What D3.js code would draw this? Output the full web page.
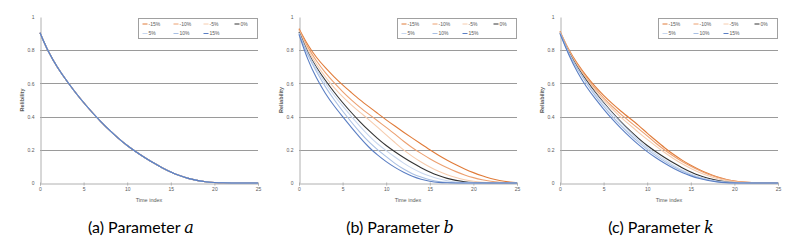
<!DOCTYPE html>
<html>
<head>
<meta charset="utf-8">
<script src="https://cdn.jsdelivr.net/npm/d3@7"></script>
<style>
  body { margin: 0; background: #fff; }
  svg { display: block; }
</style>
</head>
<body>
<svg id="chart" width="800" height="242"></svg>
<script>
// time index 0..25
const TIME = [0, 1, 2, 3, 4, 5, 6, 7, 8, 9, 10, 11, 12, 13, 14, 15, 16, 17, 18, 19, 20, 21, 22, 23, 24, 25];

// legend order
const SERIES = ['-15%', '-10%', '-5%', '0%', '5%', '10%', '15%'];

const X_TICKS = [0, 5, 10, 15, 20, 25];
const Y_TICKS = [0, 0.2, 0.4, 0.6, 0.8, 1];
const GRID_TICKS = [0.2, 0.4, 0.6, 0.8];

// base curve, parameter a changes nothing so all 7 series sit on it
const A_BASE = [0.905, 0.783, 0.696, 0.619, 0.549, 0.484, 0.424, 0.368, 0.316, 0.268, 0.225, 0.188, 0.153, 0.121, 0.092, 0.066, 0.044, 0.027, 0.015, 0.007, 0.003, 0.001, 0, 0, 0, 0];

// parameter b
const B_M15 = [0.93, 0.83, 0.755, 0.695, 0.64, 0.59, 0.545, 0.50, 0.46, 0.42, 0.38, 0.343, 0.306, 0.27, 0.235, 0.20, 0.167, 0.137, 0.109, 0.084, 0.062, 0.043, 0.027, 0.015, 0.006, 0.002];
const B_M10 = [0.925, 0.815, 0.735, 0.665, 0.605, 0.55, 0.50, 0.455, 0.415, 0.375, 0.335, 0.295, 0.25, 0.212, 0.178, 0.146, 0.117, 0.091, 0.068, 0.048, 0.032, 0.019, 0.01, 0.004, 0.001, 0];
const B_M5 = [0.918, 0.80, 0.715, 0.64, 0.575, 0.52, 0.47, 0.425, 0.383, 0.336, 0.29, 0.244, 0.198, 0.16, 0.126, 0.096, 0.07, 0.049, 0.032, 0.019, 0.01, 0.004, 0.001, 0, 0, 0];
const B_0 = [0.91, 0.783, 0.696, 0.619, 0.549, 0.484, 0.424, 0.368, 0.316, 0.268, 0.225, 0.188, 0.153, 0.121, 0.092, 0.066, 0.044, 0.027, 0.015, 0.007, 0.003, 0.001, 0, 0, 0, 0];
const B_P5 = [0.905, 0.778, 0.686, 0.602, 0.529, 0.464, 0.401, 0.341, 0.285, 0.235, 0.195, 0.156, 0.119, 0.087, 0.061, 0.041, 0.025, 0.013, 0.005, 0.002, 0.001, 0, 0, 0, 0, 0];
const B_P10 = [0.90, 0.769, 0.67, 0.58, 0.504, 0.433, 0.367, 0.304, 0.247, 0.20, 0.159, 0.117, 0.083, 0.055, 0.035, 0.019, 0.008, 0.003, 0.001, 0, 0, 0, 0, 0, 0, 0];
const B_P15 = [0.895, 0.74, 0.63, 0.54, 0.465, 0.40, 0.335, 0.273, 0.215, 0.168, 0.128, 0.093, 0.064, 0.04, 0.022, 0.01, 0.003, 0.001, 0, 0, 0, 0, 0, 0, 0, 0];

// parameter k
const K_M15 = [0.915, 0.80, 0.718, 0.645, 0.582, 0.527, 0.477, 0.432, 0.39, 0.348, 0.30, 0.256, 0.212, 0.172, 0.137, 0.106, 0.079, 0.056, 0.037, 0.022, 0.012, 0.005, 0.002, 0.001, 0, 0];
const K_M10 = [0.912, 0.795, 0.71, 0.635, 0.57, 0.512, 0.46, 0.413, 0.37, 0.327, 0.285, 0.238, 0.198, 0.162, 0.129, 0.1, 0.074, 0.052, 0.034, 0.02, 0.011, 0.005, 0.002, 0.001, 0, 0];
const K_M5 = [0.91, 0.79, 0.705, 0.628, 0.56, 0.50, 0.445, 0.395, 0.35, 0.305, 0.262, 0.222, 0.183, 0.147, 0.115, 0.087, 0.063, 0.043, 0.027, 0.015, 0.007, 0.003, 0.001, 0, 0, 0];
const K_0 = [0.905, 0.783, 0.696, 0.619, 0.549, 0.484, 0.424, 0.368, 0.316, 0.268, 0.225, 0.188, 0.153, 0.121, 0.092, 0.066, 0.044, 0.027, 0.015, 0.007, 0.003, 0.001, 0, 0, 0, 0];
const K_P5 = [0.905, 0.78, 0.69, 0.61, 0.54, 0.477, 0.418, 0.362, 0.308, 0.258, 0.213, 0.175, 0.14, 0.107, 0.078, 0.054, 0.035, 0.021, 0.011, 0.005, 0.002, 0.001, 0, 0, 0, 0];
const K_P10 = [0.905, 0.775, 0.685, 0.603, 0.528, 0.462, 0.40, 0.345, 0.293, 0.245, 0.202, 0.164, 0.13, 0.098, 0.071, 0.048, 0.03, 0.017, 0.008, 0.003, 0.001, 0, 0, 0, 0, 0];
const K_P15 = [0.90, 0.77, 0.665, 0.58, 0.51, 0.445, 0.383, 0.328, 0.277, 0.23, 0.188, 0.151, 0.118, 0.088, 0.063, 0.042, 0.026, 0.014, 0.006, 0.002, 0.001, 0, 0, 0, 0, 0];

const PANELS = [
    { caption: 'a', param: 'a', yLabel: 'Relibility', series: [A_BASE, A_BASE, A_BASE, A_BASE, A_BASE, A_BASE, A_BASE] },
    { caption: 'b', param: 'b', yLabel: 'Reliability', series: [B_M15, B_M10, B_M5, B_0, B_P5, B_P10, B_P15] },
    { caption: 'c', param: 'k', yLabel: 'Reliability', series: [K_M15, K_M10, K_M5, K_0, K_P5, K_P10, K_P15] },
];

// line colours, same order as SERIES
const COLORS = ['#e07b39', '#eca070', '#f6ccae', '#333333', '#c8d7ee', '#a8bfe3', '#5a7ec3'];

// layout
const PLOT_LEFT = [40, 299, 560];
const PLOT_W = 218;
const PLOT_TOP = 17;
const PLOT_BOTTOM = 183;
const GRID_COLOR = '#9a9a9a';
const TEXT_COLOR = '#595959';
const SMALL_FONT = '"Liberation Sans", Arial, sans-serif';

const SVG = d3.select('#chart');

const X_SCALE = d3.scaleLinear().domain([0, 25]).range([0, PLOT_W]);
const Y_SCALE = d3.scaleLinear().domain([0, 1]).range([PLOT_BOTTOM, PLOT_TOP]);

const LINE = d3.line()
    .x((d, i) => X_SCALE(TIME[i]))
    .y(d => Y_SCALE(d))
    .curve(d3.curveBasis);

function drawPanel(panel, index) {
    const G = SVG.append('g')
        .attr('id', `panel${index}`)
        .attr('transform', `translate(${PLOT_LEFT[index]}, 0)`);

    // horizontal gridlines
    G.append('g').selectAll('line')
        .data(GRID_TICKS)
        .join('line')
        .attr('x1', 0)
        .attr('x2', PLOT_W)
        .attr('y1', d => Math.round(Y_SCALE(d)) + 0.5)
        .attr('y2', d => Math.round(Y_SCALE(d)) + 0.5)
        .style('stroke', GRID_COLOR)
        .style('stroke-width', 1);

    // y axis
    const Y_AXIS = d3.axisLeft(Y_SCALE)
        .tickValues(Y_TICKS)
        .tickFormat(d => d === 0 || d === 1 ? d3.format('d')(d) : d3.format('.1f')(d))
        .tickSize(0)
        .tickPadding(6);
    const Y_G = G.append('g').attr('transform', 'translate(0.5, 0)').call(Y_AXIS);
    Y_G.select('.domain').attr('stroke', '#b0b0b0');

    // x axis
    const X_AXIS = d3.axisBottom(X_SCALE)
        .tickValues(X_TICKS)
        .tickSize(2)
        .tickPadding(2);
    const X_G = G.append('g').attr('transform', `translate(0, ${PLOT_BOTTOM + 0.5})`).call(X_AXIS);
    X_G.select('.domain').attr('stroke', '#b0b0b0');
    X_G.selectAll('.tick line').attr('stroke', '#b0b0b0').attr('y1', -1);

    [Y_G, X_G].forEach(ax => ax.selectAll('text')
        .style('font-family', SMALL_FONT)
        .style('font-size', '5px')
        .style('fill', TEXT_COLOR));

    // curves
    G.append('g').selectAll('path')
        .data(panel.series)
        .join('path')
        .attr('d', d => LINE(d))
        .style('fill', 'none')
        .style('stroke', (d, i) => COLORS[i])
        .style('stroke-width', 1.1);

    // axis titles
    G.append('text')
        .text(panel.yLabel)
        .attr('transform', `translate(-16, ${(PLOT_TOP + PLOT_BOTTOM) / 2}) rotate(-90)`)
        .attr('text-anchor', 'middle')
        .style('font-family', SMALL_FONT)
        .style('font-size', '5.5px')
        .style('font-weight', 'bold')
        .style('fill', TEXT_COLOR);

    G.append('text')
        .text('Time index')
        .attr('x', PLOT_W / 2)
        .attr('y', 202)
        .attr('text-anchor', 'middle')
        .style('font-family', SMALL_FONT)
        .style('font-size', '5.5px')
        .style('fill', TEXT_COLOR);

    // legend box
    const LEG_W = 119, LEG_H = 20;
    const LEG = G.append('g')
        .attr('transform', `translate(${PLOT_W - LEG_W - 0.5}, ${PLOT_TOP + 1.5})`);
    LEG.append('rect')
        .attr('width', LEG_W)
        .attr('height', LEG_H)
        .style('fill', '#fff')
        .style('stroke', '#a0a0a0')
        .style('stroke-width', 1);

    const COL_X = [4, 35, 65, 96];
    const ROW_Y = [5.5, 15];
    const ITEMS = LEG.selectAll('g.item')
        .data(SERIES)
        .join('g')
        .attr('class', 'item')
        .attr('transform', (d, i) => `translate(${COL_X[i % 4]}, ${ROW_Y[Math.floor(i / 4)]})`);
    ITEMS.append('line')
        .attr('x1', 0)
        .attr('x2', 5)
        .style('stroke', d => COLORS[SERIES.indexOf(d)])
        .style('stroke-width', 1);
    ITEMS.append('text')
        .text(d => d)
        .attr('x', 6)
        .attr('y', 1.8)
        .style('font-family', SMALL_FONT)
        .style('font-size', '5px')
        .style('fill', TEXT_COLOR);

    // caption
    const CAP = SVG.append('text')
        .attr('x', PLOT_LEFT[index] + PLOT_W / 2 - 8)
        .attr('y', 233)
        .attr('text-anchor', 'middle')
        .style('font-family', 'Lato, "Open Sans", sans-serif')
        .style('font-size', '16px')
        .style('fill', '#000');
    CAP.append('tspan').text(`(${panel.caption}) Parameter `);
    CAP.append('tspan')
        .text(panel.param)
        .style('font-family', '"DejaVu Serif", "Liberation Serif", serif')
        .style('font-style', 'italic');
}

PANELS.forEach((panel, index) => drawPanel(panel, index));
</script>
</body>
</html>
